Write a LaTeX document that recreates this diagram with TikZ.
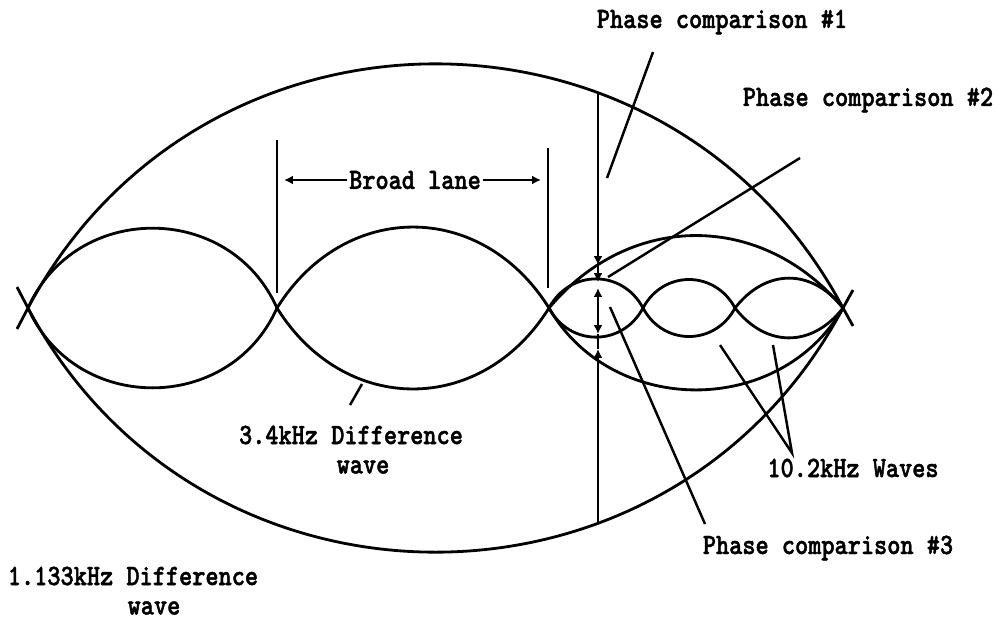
\documentclass[tikz,border=0pt]{standalone}
\usepackage{fontspec}
\newfontfamily\dosfont{lmmonolt10-bold.otf}[FakeStretch=0.85, FakeBold=1.5]
\usetikzlibrary{arrows.meta,positioning}
\tikzset{
  wave/.style={line width=1.6pt, line join=round},
  lead/.style={line width=1.4pt},
  dimarr/.style={-{Latex[length=5pt,width=5pt]}, line width=1.4pt},
  lbl/.style={font=\dosfont\fontsize{16.8}{18}\selectfont, inner sep=1pt},
  crest/.style={bend left=#1, looseness=1.2},
  trough/.style={bend right=#1, looseness=1.2}
}
\begin{document}
\begin{tikzpicture}[x=0.02cm,y=-0.02cm]
  \useasboundingbox (0,0) rectangle (999,626);
  % zero crossings
  \coordinate (L) at (28,308);
  \coordinate (R) at (843,308);
  \coordinate (m1) at (277,308);
  \coordinate (m2) at (549,308);
  \coordinate (n1) at (643,308);
  \coordinate (n2) at (735,308);
  % 1.133kHz difference wave
  \draw[wave] (17,329) -- (L) to[crest=62, looseness=1.16] (R) -- (853,326);
  \draw[wave] (17,287) -- (L) to[trough=62, looseness=1.16] (R) -- (853,290);
  % 3.4kHz difference wave
  \draw[wave] (L) to[crest=66] (m1) to[trough=58] (m2) to[crest=50, looseness=1.1] (R);
  \draw[wave] (L) to[trough=66] (m1) to[crest=58] (m2) to[trough=60, looseness=1.1] (R);
  % 10.2kHz waves
  \draw[wave] (m2) to[crest=62] (n1) to[trough=62] (n2) to[crest=52] (R);
  \draw[wave] (m2) to[trough=62] (n1) to[crest=62] (n2) to[trough=52] (R);

  % broad lane
  \coordinate (bl1t) at (277,140);
  \coordinate (bl1b) at (277,293);
  \coordinate (bl2t) at (548,148);
  \coordinate (bl2b) at (548,288);
  \draw[lead] (bl1t) -- (bl1b);
  \draw[lead] (bl2t) -- (bl2b);
  \node[lbl] (broad) at (415,180) {Broad lane};
  \draw[dimarr, shorten >=4pt] (broad.west) -- (bl1t |- broad.west);
  \draw[dimarr, shorten >=4pt] (broad.east) -- (bl2t |- broad.east);

  % phase comparison line
  \coordinate (pt) at (598,92);
  \coordinate (p1) at (598,265);
  \coordinate (p2) at (598,282);
  \coordinate (p3) at (598,288);
  \coordinate (pm) at (598,311);
  \coordinate (p4) at (598,334);
  \coordinate (p5) at (598,349);
  \coordinate (pb) at (598,522);
  \draw[dimarr] (pt) -- (p1);
  \draw[dimarr] (p1) -- (p2);
  \draw[dimarr] (pm) -- (p3);
  \draw[dimarr] (pm) -- (p4);
  \draw[dimarr] (pb) -- (p5);
  \draw[lead] (p4) -- (p5);

  % labels
  \node[lbl] (pc1) at (722,22) {Phase comparison \#1};
  \node[lbl] (pc2) at (868,100) {Phase comparison \#2};
  \node[lbl] (pc3) at (828,548) {Phase comparison \#3};
  \node[lbl] (w34) at (351,435) {3.4kHz Difference};
  \node[lbl] (w34b) at (363,467) {wave};
  \node[lbl] (w102) at (853,468) {10.2kHz Waves};
  \node[lbl] (w113) at (133,576) {1.133kHz Difference};
  \node[lbl] (w113b) at (154,608) {wave};

  % leaders
  \coordinate (c1a) at (653,52);
  \coordinate (c1b) at (607,178);
  \coordinate (c2a) at (800,158);
  \coordinate (c2b) at (608,277);
  \coordinate (c3a) at (705,524);
  \coordinate (c3b) at (610,307);
  \coordinate (d34a) at (350,405);
  \coordinate (d34b) at (362,384);
  \coordinate (k102) at (792,453);
  \coordinate (k1) at (720,345);
  \coordinate (k2) at (773,345);
  \draw[lead] (c1a) -- (c1b);
  \draw[lead] (c2a) -- (c2b);
  \draw[lead] (c3a) -- (c3b);
  \draw[lead] (d34a) -- (d34b);
  \draw[lead] (k1) -- (k102) -- (k2);
\end{tikzpicture}
\end{document}
